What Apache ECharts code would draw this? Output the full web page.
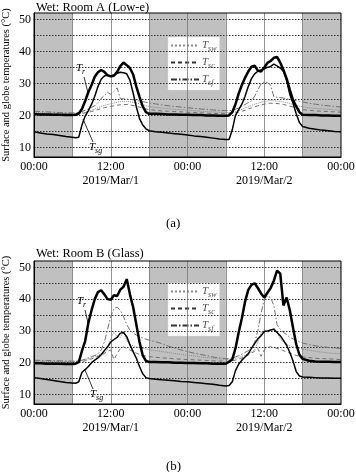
<!DOCTYPE html>
<html>
<head>
<meta charset="utf-8">
<script src="https://cdn.jsdelivr.net/npm/echarts@6/dist/echarts.min.js"></script>
<style>
html,body{margin:0;padding:0;background:#fff;}
#main{width:356px;height:472px;}
</style>
</head>
<body>
<div id="main"></div>
<script>
/* time axis in hours from 2019/Mar/1 00:00 */
var hrs = [0,1,2,3,4,5,6,
	6.5,7,7.5,8,8.5,9,9.5,10,10.5,11,11.5,12,12.5,13,13.5,14,14.5,15,15.5,16,16.5,17,17.5,18,
	19,20,21,22,23,24,25,26,27,28,29,30,
	30.5,31,31.5,32,32.5,33,33.5,34,34.5,35,35.5,36,36.5,37,37.5,38,38.5,39,39.5,40,40.5,41,41.5,42,
	43,44,45,46,47,48];

/* (a) Room A (Low-e) */
var rA = [20.4,20.3,20.3,20.2,20.2,20.1,20.1,
	20.2,20.6,22.0,24.5,27.3,29.5,32.1,33.5,34.2,33.6,32.5,32.2,32.4,33.6,35.4,36.5,35.7,34.8,32.8,29.0,25.8,22.8,21.0,20.5,
	20.5,20.4,20.3,20.3,20.2,20.2,20.1,20.1,20.0,20.0,19.9,19.9,
	20.0,21.0,23.5,26.8,29.5,31.8,33.7,35.2,35.5,34.0,33.7,35.0,36.4,37.0,38.0,38.3,36.5,34.2,31.5,28.0,24.8,22.8,21.0,20.2,
	20.1,20.1,20.0,20.0,19.9,19.9];
var sgA = [14.9,14.5,14.2,14.0,13.7,13.4,13.2,
	13.0,13.2,17.0,19.8,21.5,23.5,26.0,29.0,31.3,32.3,32.6,32.3,32.6,33.2,33.5,33.3,33.0,31.0,27.0,22.7,19.0,17.0,15.8,15.2,
	14.9,14.7,14.5,14.3,14.1,13.9,13.6,13.4,13.2,12.9,12.6,12.5,
	12.5,15.5,20.0,21.8,23.5,26.0,29.0,31.5,33.0,33.8,34.2,34.6,35.0,35.3,36.0,35.5,34.8,33.8,31.0,26.5,23.8,20.5,17.8,16.5,
	16.0,15.7,15.4,15.2,15.0,14.9];
var swA = [20.8,20.8,20.7,20.7,20.6,20.6,20.5,
	20.5,20.6,20.8,21.0,21.3,21.6,22.0,22.4,22.8,23.1,23.4,23.6,23.9,24.1,24.3,24.4,24.4,24.3,24.1,23.9,23.6,23.3,23.0,22.8,
	22.5,22.3,22.1,21.9,21.8,21.6,21.5,21.3,21.2,21.1,21.0,20.9,
	20.9,21.0,21.2,21.5,21.9,22.3,22.7,23.1,23.5,23.8,24.1,24.3,24.5,24.6,24.6,24.5,24.4,24.2,24.0,23.7,23.4,23.1,22.9,22.7,
	22.4,22.2,22.0,21.9,21.7,21.6];
var scA = [20.6,20.6,20.5,20.5,20.4,20.4,20.4,
	20.4,20.5,20.6,20.8,21.0,21.2,21.5,21.8,22.1,22.4,22.6,22.8,23.0,23.2,23.3,23.4,23.4,23.3,23.1,22.9,22.6,22.3,22.0,21.8,
	21.6,21.4,21.3,21.2,21.1,21.0,20.9,20.8,20.7,20.6,20.6,20.5,
	20.5,20.6,20.8,21.0,21.3,21.6,22.0,22.3,22.7,23.0,23.3,23.5,23.7,23.8,23.8,23.7,23.6,23.4,23.2,22.9,22.6,22.3,22.0,21.8,
	21.6,21.4,21.3,21.2,21.1,21.0];
var sfA = [21.3,21.2,21.1,21.0,20.9,20.8,20.8,
	20.8,20.9,21.2,21.6,22.0,22.5,23.0,24.0,25.3,26.2,27.2,26.6,27.5,28.6,25.2,25.2,25.1,25.0,24.9,24.7,24.5,24.3,24.1,23.9,
	23.6,23.3,23.0,22.8,22.6,22.4,22.2,22.0,21.9,21.7,21.6,21.5,
	21.5,21.6,21.9,22.3,22.8,23.4,24.0,24.5,26.0,28.0,29.8,30.5,30.2,29.5,25.8,25.7,25.6,25.4,25.2,25.0,24.8,24.6,24.4,24.2,
	23.8,23.5,23.2,23.0,22.8,22.6];

/* (b) Room B (Glass) */
var rB = [19.8,19.8,19.7,19.7,19.7,19.6,19.6,
	19.7,20.2,23.7,26.8,32.5,36.5,40.0,42.2,42.8,41.5,40.0,39.8,41.2,41.0,43.0,43.9,46.3,41.5,37.5,32.0,26.5,22.3,20.6,20.2,
	20.2,20.1,20.1,20.0,20.0,19.9,19.9,19.8,19.8,19.7,19.7,19.7,
	20.3,21.0,24.5,29.5,34.0,39.2,42.9,44.5,45.0,43.5,41.8,40.5,42.0,43.5,45.8,49.0,48.0,38.0,40.5,36.5,31.0,25.8,22.5,21.2,
	20.6,20.4,20.3,20.3,20.2,20.2];
var sgB = [15.3,15.0,14.7,14.4,14.1,13.8,13.6,
	13.5,14.0,17.0,17.8,18.8,20.0,20.8,21.5,22.5,23.8,25.0,26.5,27.3,28.0,29.3,29.5,28.2,25.6,23.5,21.4,18.8,16.5,15.3,15.0,
	14.8,14.6,14.5,14.3,14.1,14.0,13.8,13.6,13.4,13.2,12.9,12.7,
	12.8,14.0,17.5,19.5,20.8,21.8,22.8,24.5,26.0,27.5,28.5,29.8,30.0,30.3,30.5,29.5,28.5,27.0,25.5,23.2,20.5,17.2,15.8,15.5,
	15.4,15.3,15.2,15.2,15.1,15.1];
var swB = [20.5,20.5,20.4,20.4,20.4,20.3,20.3,
	20.3,20.4,20.6,20.9,21.2,21.6,22.0,22.4,22.8,23.3,24.2,27.5,29.5,28.3,28.0,29.8,27.0,25.8,25.3,25.0,24.7,24.5,24.3,24.1,
	23.8,23.5,23.2,22.9,22.6,22.3,22.1,21.8,21.6,21.4,21.2,21.0,
	21.0,21.1,21.3,21.6,22.0,22.4,22.8,23.3,24.0,26.5,29.5,30.5,29.5,30.0,31.0,29.5,27.5,26.5,25.8,25.3,25.0,24.7,24.5,24.3,
	23.9,23.6,23.3,23.1,22.9,22.8];
var scB = [20.2,20.2,20.1,20.1,20.1,20.0,20.0,
	20.0,20.1,20.3,20.6,20.9,21.2,21.6,22.0,22.4,22.9,23.6,24.0,21.0,22.8,24.5,25.0,24.5,24.0,23.5,23.0,22.6,22.3,22.1,21.9,
	21.7,21.5,21.4,21.2,21.1,21.0,20.9,20.8,20.7,20.6,20.5,20.5,
	20.5,20.6,20.8,21.1,21.5,21.9,22.4,23.0,23.6,24.5,22.0,24.0,24.8,25.0,24.8,24.5,24.2,23.8,23.4,23.0,22.6,22.3,22.0,21.8,
	21.6,21.4,21.3,21.2,21.1,21.0];
var sfB = [20.8,20.7,20.7,20.6,20.6,20.5,20.5,
	20.5,20.6,20.8,21.1,21.5,21.9,22.3,22.8,24.0,26.5,30.5,34.5,37.0,37.5,36.5,34.5,32.0,30.2,29.3,28.7,28.2,27.8,27.4,27.1,
	26.6,26.0,25.2,24.6,24.0,23.5,23.0,22.6,22.2,21.8,21.5,21.3,
	21.3,21.5,21.8,22.2,22.7,23.2,23.8,24.6,26.5,30.0,35.5,40.0,41.0,40.5,38.0,32.0,30.5,29.5,28.8,28.0,27.5,27.0,26.6,26.2,
	25.7,25.3,25.0,24.8,24.6,24.5];

/* axes, shading */
var nightSpans = [[0, 6], [18, 30], [42, 48]];
var xGrid = [6, 12, 18, 24, 30, 36, 42];
var yGrid = [10, 15, 20, 25, 30, 35, 40, 45, 50];
var yLabels = [10, 20, 30, 40, 50];
var xLabelHours = [0, 12, 24, 36, 48];
var xLabelTexts = ['00:00', '12:00\n2019/Mar/1', '00:00', '12:00\n2019/Mar/2', '00:00'];
var legendNames = ['Tsw', 'Tsc', 'Tsf'];

var serif = 'Liberation Serif';
var myChart = echarts.init(document.getElementById('main'), null, {renderer: 'canvas'});

function pairs(vals) {
	return hrs.map(function(h, i) { return [h, vals[i]]; });
}
var styles = {
	Tr:  {color: '#000', width: 2.5, type: 'solid'},
	Tsg: {color: '#000', width: 1.5, type: 'solid'},
	Tsw: {color: '#8a8a8a', width: 1, type: 'dotted'},
	Tsc: {color: '#707070', width: 1, type: [4, 3]},
	Tsf: {color: '#707070', width: 1, type: [6, 2, 1.5, 2]}
};
function lineSeries(name, vals, g) {
	var st = styles[name];
	return {
		name: name, type: 'line', xAxisIndex: g, yAxisIndex: g,
		data: pairs(vals), symbol: 'none', showSymbol: false, z: 5,
		lineStyle: {color: st.color, width: st.width, type: st.type},
		itemStyle: {color: st.color}
	};
}
// 夜间阴影 + 网格线 (挂在不可见的辅助系列上)
function markSeries(g) {
	var hgrid = yGrid.map(function(v) {
		return [{coord: [0, v]}, {coord: [48, v]}];
	});
	var vgrid = xGrid.map(function(v) {
		return [{coord: [v, 7], lineStyle: {type: 'solid', color: '#777', width: 0.8}}, {coord: [v, 52]}];
	});
	return [{
		name: 'night' + g, type: 'line', xAxisIndex: g, yAxisIndex: g, data: [[-5, 0]], z: 1, silent: true,
		symbol: 'none', lineStyle: {width: 0},
		markArea: {silent: true, itemStyle: {color: '#c0c0c0'},
			data: nightSpans.map(function(s) { return [{coord: [s[0], 7]}, {coord: [s[1], 52]}]; })}
	}, {
		name: 'grid' + g, type: 'line', xAxisIndex: g, yAxisIndex: g, data: [[-5, 0]], z: 2, silent: true,
		symbol: 'none', lineStyle: {width: 0},
		markLine: {silent: true, symbol: ['none', 'none'], label: {show: false},
			lineStyle: {type: [1.5, 1.5], color: '#333', width: 1},
			data: hgrid.concat(vgrid)}
	}];
}
function xAxisOf(g) {
	return {
		type: 'value', gridIndex: g, min: 0, max: 48, z: 10,
		axisLine: {show: true, lineStyle: {color: '#000', width: 1}},
		axisTick: {show: false},
		splitLine: {show: false},
		axisLabel: {
			customValues: xLabelHours, margin: 3, color: '#000',
			fontFamily: serif, fontSize: 12, lineHeight: 14,
			formatter: function(v) {
				var i = xLabelHours.indexOf(v);
				return i < 0 ? '' : xLabelTexts[i];
			}
		}
	};
}
function yAxisOf(g) {
	return {
		type: 'value', gridIndex: g, min: 7, max: 52, z: 10,
		name: 'Surface and globe temperatures (\u00B0C)', nameLocation: 'middle', nameGap: 22,
		nameMoveOverlap: false,
		nameTextStyle: {fontFamily: serif, fontSize: 10.5, color: '#000'},
		axisLine: {show: true, lineStyle: {color: '#000', width: 1}},
		axisTick: {show: false},
		splitLine: {show: false},
		axisLabel: {customValues: yLabels, margin: 3, color: '#000', fontFamily: serif, fontSize: 12}
	};
}
var subRich = {
	t: {fontFamily: serif, fontStyle: 'italic', fontSize: 11, color: '#555', verticalAlign: 'bottom'},
	s: {fontFamily: serif, fontStyle: 'italic', fontSize: 8, color: '#555', verticalAlign: 'bottom', padding: [0, 0, -2, 0]}
};
var annRich = {
	t: {fontFamily: serif, fontStyle: 'italic', fontSize: 11, fill: '#000', verticalAlign: 'bottom'},
	s: {fontFamily: serif, fontStyle: 'italic', fontSize: 8, fill: '#000', verticalAlign: 'bottom', padding: [0, 0, -2, 0]}
};
function legendOf(top) {
	return {
		left: 168, top: top, orient: 'vertical',
		data: legendNames.map(function(n) {
			return {name: n, lineStyle: n == 'Tsw' ? {} : {color: '#333'}};
		}),
		itemWidth: 28, itemHeight: 10, itemGap: 4,
		padding: [3, 3, 3, 2], backgroundColor: '#fff', borderColor: '#ddd', borderWidth: 0.5,
		itemStyle: {opacity: 0},
		selectedMode: false,
		formatter: function(name) { return '{t|T}{s|' + name.slice(1) + '}'; },
		textStyle: {rich: subRich, padding: [0, 0, 0, -2]}
	};
}
function ann(left, top, sub, x1, y1, x2, y2) {
	return [{
		type: 'text', left: left, top: top, z: 20,
		style: {text: '{t|T}{s|' + sub + '}', rich: annRich}
	}, {
		type: 'line', z: 20, shape: {x1: x1, y1: y1, x2: x2, y2: y2},
		style: {stroke: '#000', lineWidth: 0.8}
	}];
}

var series = markSeries(0).concat(markSeries(1));
series.push(lineSeries('Tsw', swA, 0), lineSeries('Tsc', scA, 0), lineSeries('Tsf', sfA, 0),
	lineSeries('Tsg', sgA, 0), lineSeries('Tr', rA, 0));
series.push(lineSeries('Tsw', swB, 1), lineSeries('Tsc', scB, 1), lineSeries('Tsf', sfB, 1),
	lineSeries('Tsg', sgB, 1), lineSeries('Tr', rB, 1));

var titleStyle = {fontFamily: serif, fontSize: 12.5, fontWeight: 'normal', color: '#000'};
option = {
	animation: false,
	backgroundColor: '#fff',
	title: [
		{text: 'Wet: Room A (Low-e)', left: 36, top: 1, padding: 0, textStyle: titleStyle},
		{text: 'Wet: Room B (Glass)', left: 36, top: 247, padding: 0, textStyle: titleStyle},
		{text: '(a)', left: 166, top: 217, padding: 0, textStyle: {fontFamily: serif, fontSize: 13, fontWeight: 'normal', color: '#000'}},
		{text: '(b)', left: 166, top: 460, padding: 0, textStyle: {fontFamily: serif, fontSize: 13, fontWeight: 'normal', color: '#000'}}
	],
	grid: [
		{left: 34, top: 13, width: 307, height: 144, outerBoundsMode: 'none', containLabel: false,
			show: true, borderColor: '#000', borderWidth: 1, backgroundColor: 'transparent', z: 10},
		{left: 34, top: 261, width: 307, height: 143, outerBoundsMode: 'none', containLabel: false,
			show: true, borderColor: '#000', borderWidth: 1, backgroundColor: 'transparent', z: 10}
	],
	legend: [legendOf(37), legendOf(283)],
	xAxis: [xAxisOf(0), xAxisOf(1)],
	yAxis: [yAxisOf(0), yAxisOf(1)],
	series: series,
	graphic: [].concat(
		ann(76, 63, 'r', 84, 77, 88, 93),
		ann(89, 142, 'sg', 93, 142, 83, 119),
		ann(77, 296, 'r', 85, 310, 88, 323),
		ann(90, 389, 'sg', 93, 389, 85, 370)
	)
};
myChart.setOption(option);
</script>
</body>
</html>
